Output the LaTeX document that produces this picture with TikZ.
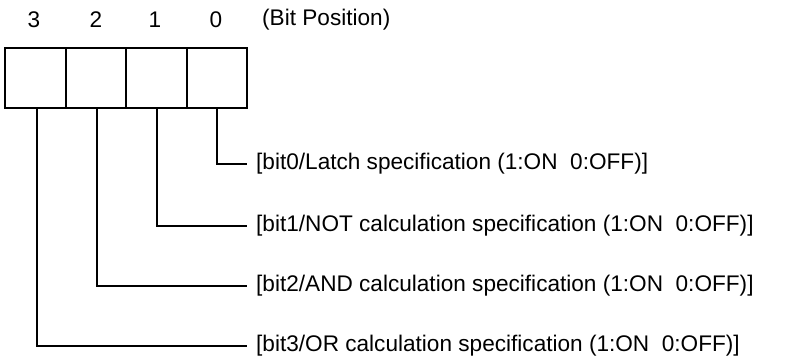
\documentclass[tikz,border=0pt]{standalone}
\usepackage{fontspec}
\setmainfont{Liberation Sans}
\begin{document}
\begin{tikzpicture}[
    bitcell/.style={draw, line width=1.6pt, minimum width=60.5pt, minimum height=60pt, inner sep=0pt},
    bitnum/.style={inner sep=0pt},
    bitlabel/.style={anchor=west, inner xsep=9pt, inner ysep=0pt},
    leg/.style={line width=1.6pt}]
  \fontsize{22.6}{26}\selectfont
  \useasboundingbox (0pt,0pt) rectangle (793pt,-358pt);

  %% register cells
  \node[bitcell] (b3) at ( 35.5pt,-78pt) {};
  \node[bitcell] (b2) at ( 96pt,-78pt) {};
  \node[bitcell] (b1) at (156.5pt,-78pt) {};
  \node[bitcell] (b0) at (217pt,-78pt) {};

  %% bit positions
  \node[bitnum] (n3) at ( 34pt,-20pt) {3};
  \node[bitnum] (n2) at ( 96pt,-20pt) {2};
  \node[bitnum] (n1) at (155pt,-20pt) {1};
  \node[bitnum] (n0) at (216pt,-20pt) {0};
  \node[bitnum, anchor=west] (pos) at (262pt,-20pt) {(Bit Position)};

  %% descriptions
  \node[bitlabel] (l0) at (247pt,-164pt) {[bit0/Latch specification (1:ON~~0:OFF)]};
  \node[bitlabel] (l1) at (247pt,-226pt) {[bit1/NOT calculation specification (1:ON~~0:OFF)]};
  \node[bitlabel] (l2) at (247pt,-286pt) {[bit2/AND calculation specification (1:ON~~0:OFF)]};
  \node[bitlabel] (l3) at (247pt,-346pt) {[bit3/OR calculation specification (1:ON~~0:OFF)]};

  \draw[leg] ([xshift=1.5pt]b3.south) |- (l3.west); %% bit3
  \draw[leg] ([xshift=1pt]b2.south) |- (l2.west);   %% bit2
  \draw[leg] ([xshift=0.5pt]b1.south) |- (l1.west); %% bit1
  \draw[leg] (b0.south) |- (l0.west);               %% bit0
\end{tikzpicture}
\end{document}
